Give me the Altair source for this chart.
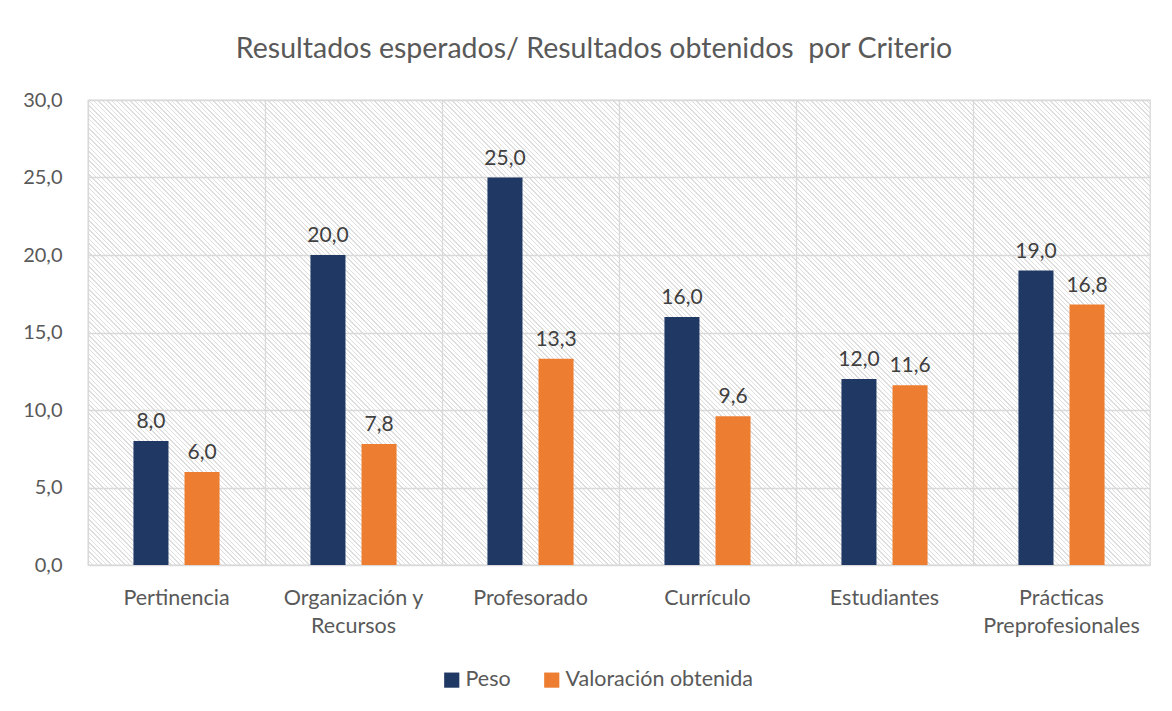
import altair as alt
import pandas as pd

categories = ["Pertinencia", "Organización y Recursos", "Profesorado", "Currículo",
              "Estudiantes", "Prácticas Preprofesionales"]
peso = [8.0, 20.0, 25.0, 16.0, 12.0, 19.0]
valoracion = [6.0, 7.8, 13.3, 9.6, 11.6, 16.8]
series = ["Peso", "Valoración obtenida"]
colors = ["#203864", "#ED7D31"]
label_lines = {
    "Organización y Recursos": ["Organización y", "Recursos"],
    "Prácticas Preprofesionales": ["Prácticas", "Preprofesionales"],
}
title_text = "Resultados esperados/ Resultados obtenidos \u00a0por Criterio"

rows = []
for c, p, v in zip(categories, peso, valoracion):
    rows.append({"Criterio": c, "Serie": series[0], "Valor": p})
    rows.append({"Criterio": c, "Serie": series[1], "Valor": v})
df = pd.DataFrame(rows)

label_expr = "datum.value"
for k, v in label_lines.items():
    label_expr = f"datum.value == '{k}' ? ['{v[0]}', '{v[1]}'] : (" + label_expr + ")"

FONT = "Lato"
GRAY = "#595959"
W, H = 1062, 465

# diagonal hatch background as a striped linear gradient (45 degree lines)
r = H / W
s = (1 + r) / (1 + r * r)
PERIOD = 4.6
LINE = 1.4
HATCH = "#DEDEDE"
stops = []
total = W + H
k = 0.0
while k < total:
    a = k / total
    b = min((k + LINE) / total, 1.0)
    stops += [{"offset": a, "color": "#FFFFFF"}, {"offset": a, "color": HATCH},
              {"offset": b, "color": HATCH}, {"offset": b, "color": "#FFFFFF"}]
    k += PERIOD
hatch = {"gradient": "linear", "x1": 0, "y1": 1, "x2": s, "y2": 1 - r * s,
         "stops": stops}

x = alt.X("Criterio:N", sort=categories, title=None,
          scale=alt.Scale(paddingInner=0, paddingOuter=0),
          axis=alt.Axis(labelExpr=label_expr, labelAngle=0, labelFontSize=21.5,
                        labelColor=GRAY, labelFont=FONT, ticks=False, domain=False,
                        labelPadding=22, grid=True, bandPosition=0,
                        gridColor="#D9D9D9", gridWidth=1.3, labelLineHeight=28))
xoff = alt.XOffset("Serie:N", sort=series,
                   scale=alt.Scale(paddingInner=0.314, paddingOuter=0.89))
y = alt.Y("Valor:Q", title=None,
          scale=alt.Scale(domain=[0, 30]),
          axis=alt.Axis(values=[0, 5, 10, 15, 20, 25, 30],
                        labelExpr="replace(format(datum.value, '.1f'), '.', ',')",
                        labelFontSize=20, labelColor=GRAY, labelFont=FONT,
                        ticks=False, domain=False, labelPadding=26,
                        gridColor="#D9D9D9", gridWidth=1.3))

base = alt.Chart(df).encode(x=x, xOffset=xoff, y=y)

bars = base.mark_bar().encode(
    color=alt.Color("Serie:N", sort=series,
                    scale=alt.Scale(domain=series, range=colors),
                    legend=alt.Legend(title=None, orient="none", direction="horizontal",
                                      legendX=353, legendY=569,
                                      symbolType="square", symbolSize=230,
                                      symbolStrokeWidth=0, labelOffset=3,
                                      labelFontSize=21.5, labelColor=GRAY, labelFont=FONT,
                                      labelLimit=400, columnPadding=30))
)

texts = base.mark_text(dy=-19, fontSize=21, color="#404040", font=FONT).transform_calculate(
    lbl="replace(format(datum.Valor, '.1f'), '.', ',')"
).encode(text="lbl:N")

chart = (bars + texts).properties(
    width=W, height=H,
    title=alt.TitleParams(title_text, fontSize=28.5, font=FONT, color=GRAY,
                          fontWeight="normal", offset=27, dx=-25),
    padding={"left": 14, "top": 26, "right": 5, "bottom": 5},
).configure_view(
    stroke="#D9D9D9", strokeWidth=1.3
).configure(
    background="white",
    style={"cell": {"fill": hatch, "stroke": "#D9D9D9", "strokeWidth": 1.3}},
)

chart.save("out.html", embed_options={"renderer": "svg", "actions": False})
